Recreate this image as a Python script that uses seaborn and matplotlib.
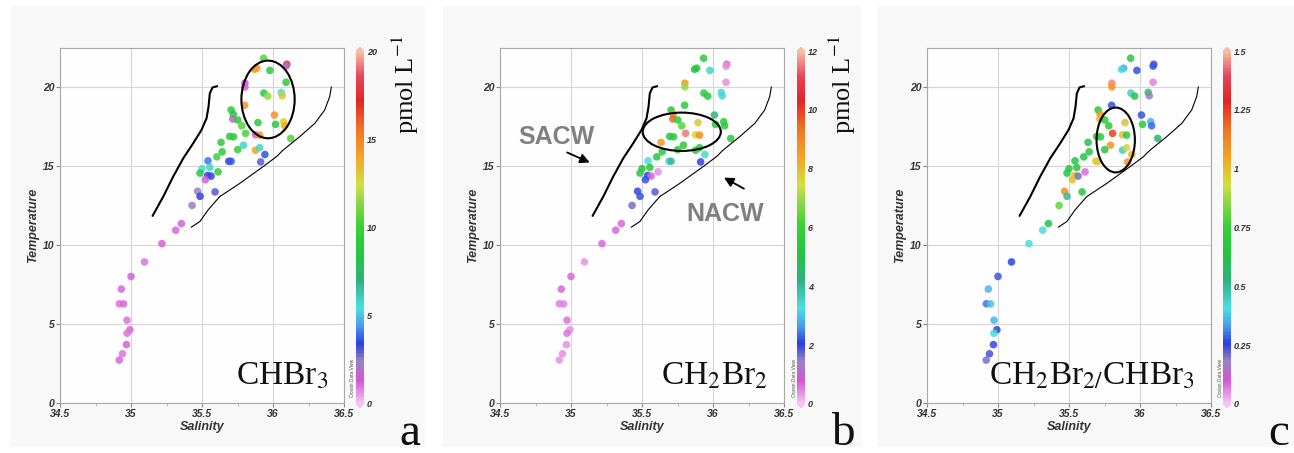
import matplotlib
matplotlib.use('Agg')
import matplotlib.pyplot as plt
from matplotlib.colors import LinearSegmentedColormap, Normalize
from matplotlib.cm import ScalarMappable
from matplotlib.patches import Ellipse, Rectangle
from matplotlib.ticker import FuncFormatter, MultipleLocator
import seaborn as sns
import pandas as pd

# samples: salinity / temperature, same stations in all three panels
salinity = [35.934, 35.885, 35.870, 35.978, 36.097, 36.092, 36.092, 35.802, 35.802, 36.058,
            36.065, 35.936, 35.963, 35.800, 35.705, 35.720, 35.717, 35.752, 35.780, 35.894,
            36.010, 36.018, 36.075, 36.082, 36.125, 35.807, 35.877, 35.906, 35.695, 35.722,
            35.634, 35.642, 35.604, 35.752, 35.792, 35.877, 35.906, 35.943, 35.913, 35.689,
            35.705, 35.542, 35.500, 35.555, 35.486, 35.540, 35.564, 35.613, 35.524, 35.469,
            35.486, 35.592, 35.430, 35.355, 35.315, 35.218, 35.095, 35.000, 34.932, 34.918,
            34.948, 34.972, 34.992, 34.972, 34.968, 34.940, 34.917]
temperature = [21.85, 21.22, 21.15, 21.08, 21.47, 21.35, 20.33, 20.27, 20.03, 19.68,
               19.47, 19.64, 19.45, 18.87, 18.57, 18.30, 18.00, 17.94, 17.57, 17.77,
               18.25, 17.66, 17.83, 17.57, 16.77, 17.09, 17.00, 16.98, 16.90, 16.87,
               16.52, 15.92, 15.60, 16.06, 16.34, 16.02, 16.18, 15.75, 15.28, 15.32,
               15.32, 15.35, 14.85, 14.93, 14.57, 14.42, 14.38, 14.65, 14.15, 13.42,
               13.10, 13.38, 12.52, 11.37, 10.95, 10.10, 8.94, 8.02, 7.22, 6.29,
               6.28, 5.25, 4.64, 4.42, 3.70, 3.12, 2.72]

chbr3 = [10.5, 14.5, 14.2, 9.0, 17.5, 1.8, 9.2, 1.6, 1.2, 5.5,
         13.0, 9.0, 11.5, 14.5, 9.0, 8.8, 1.6, 9.2, 10.5, 9.0,
         14.5, 9.0, 12.8, 14.0, 10.5, 10.3, 1.2, 14.5, 9.0, 9.0,
         9.5, 9.0, 10.2, 10.0, 5.8, 14.0, 5.8, 3.6, 3.0, 3.5,
         3.7, 4.0, 5.5, 5.8, 8.8, 3.5, 3.3, 9.5, 1.2, 2.4,
         3.5, 3.0, 2.2, 1.2, 1.1, 1.2, 1.0, 1.2, 1.1, 1.0,
         1.1, 1.0, 1.1, 1.0, 1.2, 1.0, 1.1]
ch2br2 = [5.4, 5.3, 5.2, 3.5, 0.7, 0.4, 0.4, 8.6, 7.0, 3.4,
          3.4, 5.4, 5.5, 5.4, 5.3, 8.8, 9.5, 5.6, 6.3, 7.8,
          4.3, 5.4, 5.4, 5.5, 5.4, 11.5, 7.6, 8.8, 5.3, 5.4,
          8.6, 5.4, 5.3, 5.4, 5.5, 5.4, 5.4, 3.4, 2.1, 3.3,
          4.0, 3.3, 5.2, 5.3, 5.4, 2.1, 0.7, 0.4, 2.2, 2.0,
          2.2, 1.8, 1.6, 0.7, 0.7, 0.7, 0.35, 0.7, 0.7, 0.5,
          0.5, 0.6, 0.4, 0.6, 0.4, 0.4, 0.35]
ratio = [0.67, 0.34, 0.42, 0.27, 0.24, 0.28, 0.06, 1.45, 1.08, 0.65,
         0.18, 0.45, 0.65, 0.27, 0.66, 1.08, 1.02, 0.68, 0.70, 1.00,
         0.27, 0.67, 0.36, 0.29, 0.55, 1.25, 1.00, 0.68, 0.67, 0.68,
         0.62, 0.66, 0.64, 0.67, 1.08, 0.45, 0.95, 1.02, 1.08, 0.98,
         0.97, 0.64, 0.65, 0.66, 0.64, 1.00, 0.20, 0.08, 1.00, 1.10,
         0.50, 0.66, 0.80, 0.62, 0.42, 0.40, 0.26, 0.28, 0.36, 0.30,
         0.37, 0.36, 0.26, 0.42, 0.25, 0.24, 0.20]

# hand-drawn water mass boundaries
sacw_s = [35.152, 35.227, 35.297, 35.368, 35.438, 35.496, 35.532, 35.546, 35.555, 35.574, 35.607]
sacw_t = [11.86, 13.08, 14.35, 15.51, 16.46, 17.30, 18.04, 18.78, 19.62, 20.00, 20.08]
nacw_s = [35.424, 35.485, 35.543, 35.625, 35.766, 35.930, 36.024, 36.071, 36.188, 36.294, 36.364, 36.399, 36.411]
nacw_t = [11.14, 11.50, 12.24, 13.08, 13.92, 14.98, 15.61, 16.03, 16.88, 17.72, 18.57, 19.41, 20.04]

df = pd.DataFrame({'Salinity': salinity, 'Temperature': temperature,
                   'chbr3': chbr3, 'ch2br2': ch2br2, 'ratio': ratio})

sns.set_theme(style='whitegrid')
plt.rcParams['font.family'] = ['Liberation Sans', 'DejaVu Sans']
plt.rcParams['mathtext.fontset'] = 'stix'

odv = LinearSegmentedColormap.from_list('odv', [
    (0.0, '#f4c4f4'), (0.065, '#d455d4'), (0.12, '#9484c4'), (0.17, '#2a3ee0'),
    (0.22, '#4a9cf0'), (0.27, '#48e0e0'), (0.35, '#30b080'), (0.42, '#22c444'),
    (0.50, '#34d034'), (0.58, '#96d84a'), (0.62, '#d0e040'), (0.70, '#f4a424'),
    (0.78, '#f07424'), (0.86, '#e42424'), (0.93, '#e44458'), (1.0, '#f8bca4')])

W, H = 1294, 453
fig = plt.figure(figsize=(12.94, 4.53), dpi=100)
fig.patch.set_facecolor('white')

panels = [
    dict(col='chbr3', vmax=20, ticks=[0, 5, 10, 15, 20], labels=['0', '5', '10', '15', '20'],
         left=60, cbar=356, name='CHBr$_3$', letter='a', letter_x=410, bg=(10, 425),
         ellipse=(35.965, 19.24, 0.375, 4.92), unit_x=405),
    dict(col='ch2br2', vmax=12, ticks=[0, 2, 4, 6, 8, 10, 12],
         labels=['0', '2', '4', '6', '8', '10', '12'],
         left=500, cbar=797, name='CH$_2$Br$_2$', letter='b', letter_x=843, bg=(443, 862),
         ellipse=(35.78, 17.19, 0.55, 2.43), unit_x=842),
    dict(col='ratio', vmax=1.5, ticks=[0, 0.25, 0.5, 0.75, 1, 1.25, 1.5],
         labels=['0', '0.25', '0.5', '0.75', '1', '1.25', '1.5'],
         left=927, cbar=1223, name='CH$_2$Br$_{2/}$CHBr$_3$', letter='c', letter_x=1279,
         bg=(877, 1294), ellipse=(35.829, 16.67, 0.27, 4.11), unit_x=None),
]

tick_font = dict(family='Liberation Sans', weight='bold', style='italic')

for p in panels:
    # light grey panel background
    fig.patches.append(Rectangle((p['bg'][0] / W, 6 / H), (p['bg'][1] - p['bg'][0]) / W, 441 / H,
                                 transform=fig.transFigure, facecolor='#f8f8f8',
                                 edgecolor='none', zorder=-10))

    ax = fig.add_axes([p['left'] / W, 50 / H, 284 / W, 355 / H])
    ax.set_facecolor('#fefefe')
    norm = Normalize(0, p['vmax'])
    sns.scatterplot(data=df, x='Salinity', y='Temperature', hue=p['col'], palette=odv,
                    hue_norm=norm, s=30, linewidth=0, alpha=0.85, legend=False, ax=ax, zorder=3)

    ax.set_xlim(34.5, 36.5)
    ax.set_ylim(0, 22.5)
    ax.xaxis.set_major_locator(MultipleLocator(0.5))
    ax.xaxis.set_minor_locator(MultipleLocator(0.25))
    ax.yaxis.set_major_locator(MultipleLocator(5))
    ax.xaxis.set_major_formatter(FuncFormatter(lambda v, _: '%g' % v))
    ax.grid(True, which='major', color='#d6d6d6', lw=0.8)
    for sp in ax.spines.values():
        sp.set_color('#a8a8a8')
        sp.set_linewidth(0.8)
    ax.tick_params(which='major', length=3, width=0.8, color='#888888', pad=1,
                   bottom=True, left=True)
    ax.tick_params(which='minor', length=2, width=0.6, color='#aaaaaa', bottom=True)
    for lab in ax.get_xticklabels() + ax.get_yticklabels():
        lab.set(fontsize=7.5, color='#333333', **tick_font)
    ax.set_xlabel('Salinity', fontsize=9, color='#333333', labelpad=2, **tick_font)
    ax.set_ylabel('Temperature', fontsize=9, color='#333333', labelpad=3, **tick_font)

    # water mass boundaries and highlighted group
    ax.plot(sacw_s, sacw_t, color='black', lw=1.5, zorder=4)
    ax.plot(nacw_s, nacw_t, color='black', lw=0.8, zorder=4)
    cx, cy, ew, eh = p['ellipse']
    ax.add_patch(Ellipse((cx, cy), ew, eh, fill=False, edgecolor='black', lw=1.5, zorder=5))

    ax.text(36.39, 1.15, p['name'], ha='right', va='baseline', fontsize=24,
            family='Liberation Serif', color='#111111', zorder=6)

    # colorbar
    cax = fig.add_axes([p['cbar'] / W, 45 / H, 8 / W, 361 / H])
    sm = ScalarMappable(norm=norm, cmap=odv)
    cb = fig.colorbar(sm, cax=cax, extend='both', extendfrac=0.012)
    cb.outline.set_visible(False)
    cb.set_ticks(p['ticks'])
    cb.set_ticklabels(p['labels'])
    cax.tick_params(length=0, pad=2)
    for lab in cax.get_yticklabels():
        lab.set(fontsize=6.5, color='#333333', **tick_font)
    fig.text((p['cbar'] - 3) / W, 56 / H, 'Ocean Data View', rotation=90, ha='center',
             va='bottom', fontsize=3.5, color='#555555')

    if p['unit_x']:
        fig.text(p['unit_x'] / W, (H - 84) / H, 'pmol L$^{-1}$', rotation=90, ha='center',
                 va='center', fontsize=19, family='Liberation Serif', color='#111111')
    fig.text(p['letter_x'] / W, 8 / H, p['letter'], ha='center', va='baseline', fontsize=34,
             family='Liberation Serif', color='#111111')

    if p['letter'] == 'b':
        ax.text(34.90, 16.85, 'SACW', ha='center', va='center', fontsize=18,
                weight='bold', color='#808080', zorder=6)
        ax.annotate('', xy=(35.15, 15.17), xytext=(34.955, 15.95),
                    arrowprops=dict(arrowstyle='-|>', color='black', lw=1.3, mutation_scale=14))
        ax.text(36.085, 11.95, 'NACW', ha='center', va='center', fontsize=18,
                weight='bold', color='#808080', zorder=6)
        ax.annotate('', xy=(36.06, 14.37), xytext=(36.235, 13.5),
                    arrowprops=dict(arrowstyle='-|>', color='black', lw=1.3, mutation_scale=14))

fig.savefig('out.png', dpi=100, facecolor='white')
